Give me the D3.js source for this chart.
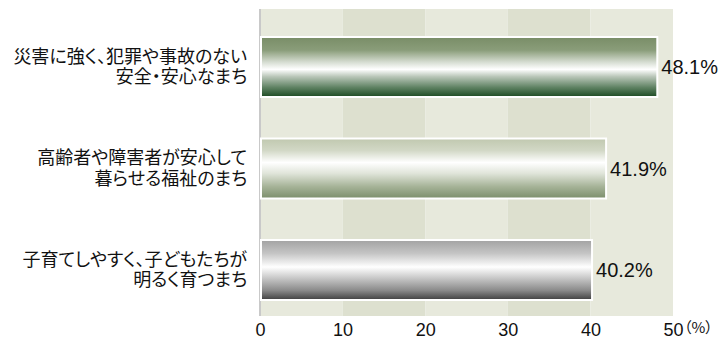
<!DOCTYPE html>
<html lang="ja">
<head>
<meta charset="utf-8">
<script src="https://cdn.jsdelivr.net/npm/d3@7/dist/d3.min.js"></script>
<style>
  html, body { margin: 0; padding: 0; background: #ffffff; }
  svg { display: block; }
  .cat { font-family: "Noto Sans CJK JP", sans-serif; font-size: 18px; fill: #111; font-feature-settings: "palt"; }
  .val { font-family: "Liberation Sans", Arial, sans-serif; font-size: 20px; fill: #111; }
  .tick-label { font-family: "Liberation Sans", Arial, sans-serif; font-size: 18px; fill: #111; }
  .unit { font-family: "Noto Sans CJK JP", sans-serif; font-size: 15px; fill: #111; font-feature-settings: "palt"; }
</style>
</head>
<body>
<svg id="chart" width="722" height="340"></svg>
<script>
// Survey results: desired future of the city (%)
const categories = [
  "災害に強く、犯罪や事故のない\n安全・安心なまち",
  "高齢者や障害者が安心して\n暮らせる福祉のまち",
  "子育てしやすく、子どもたちが\n明るく育つまち"
];
const values = [48.1, 41.9, 40.2];
const valueLabels = ["48.1%", "41.9%", "40.2%"];
const tickValues = [0, 10, 20, 30, 40, 50];
const tickLabels = ["0", "10", "20", "30", "40", "50"];
const unitLabel = "（%）";

// Cylinder-style fills for each bar, top to bottom
const barGradients = [
  [[0, "#798d67"], [0.22, "#8a9d7a"], [0.42, "#d6ddd2"], [0.54, "#ffffff"], [0.66, "#b9c6b8"], [0.84, "#5f8263"], [1, "#1c4a22"]],
  [[0, "#c0c8af"], [0.2, "#d2d8c6"], [0.4, "#ffffff"], [0.58, "#e0e5da"], [0.8, "#a6b398"], [1, "#7b8e6b"]],
  [[0, "#a2a2a2"], [0.22, "#c4c4c4"], [0.45, "#ffffff"], [0.64, "#c6c6c6"], [0.84, "#8a8a8a"], [1, "#3e3e3e"]]
];
const bandFills = ["#e7e9dc", "#dde0cf"];

const svg = d3.select("#chart");
const plotTop = 9, plotBottom = 316;

const x = d3.scaleLinear().domain([0, 50]).range([260, 673]);
const y = d3.scaleBand()
  .domain(categories)
  .range([16.25, 320.75])
  .paddingInner(0.409)
  .paddingOuter(0.2045);

// Gradient definitions
const defs = svg.append("defs");
barGradients.forEach((stops, i) => {
  const g = defs.append("linearGradient")
    .attr("id", "bar-grad-" + i)
    .attr("x1", 0).attr("y1", 0).attr("x2", 0).attr("y2", 1);
  stops.forEach(([o, c]) => g.append("stop").attr("offset", o).attr("stop-color", c));
});

// Alternating background bands every 10 points
const bandEdges = d3.pairs(tickValues);
svg.append("g").selectAll("rect")
  .data(bandEdges)
  .join("rect")
  .attr("x", d => x(d[0]))
  .attr("width", d => x(d[1]) - x(d[0]))
  .attr("y", plotTop)
  .attr("height", plotBottom - plotTop)
  .attr("fill", (d, i) => bandFills[i % 2]);

// Left axis line
svg.append("line")
  .attr("x1", x(0)).attr("x2", x(0))
  .attr("y1", plotTop).attr("y2", plotBottom)
  .attr("stroke", "#c9c9c9")
  .attr("stroke-width", 2);

// Bars
svg.append("g").selectAll("rect")
  .data(categories)
  .join("rect")
  .attr("x", x(0) + 1)
  .attr("y", d => y(d))
  .attr("width", (d, i) => x(values[i]) - x(0) - 1)
  .attr("height", y.bandwidth())
  .attr("fill", (d, i) => `url(#bar-grad-${i})`)
  .attr("stroke", "#ffffff")
  .attr("stroke-width", 2);

// Value labels
svg.append("g").selectAll("text")
  .data(categories)
  .join("text")
  .attr("class", "val")
  .attr("x", (d, i) => x(values[i]) + 4)
  .attr("y", d => y(d) + y.bandwidth() / 2 + 7)
  .text((d, i) => valueLabels[i]);

// Category labels (two lines, right-aligned)
const catG = svg.append("g");
categories.forEach(c => {
  const lines = c.split("\n");
  const cy = y(c) + y.bandwidth() / 2;
  lines.forEach((ln, j) => {
    catG.append("text")
      .attr("class", "cat")
      .attr("text-anchor", "end")
      .attr("x", 247)
      .attr("y", cy + (j === 0 ? -4.5 : 16))
      .text(ln);
  });
});

// Bottom tick labels
const xAxis = d3.axisBottom(x)
  .tickValues(tickValues)
  .tickFormat((d, i) => tickLabels[i])
  .tickSize(0)
  .tickPadding(0);
const axisG = svg.append("g")
  .attr("transform", `translate(0, ${plotBottom})`)
  .call(xAxis);
axisG.select(".domain").remove();
axisG.selectAll("text")
  .attr("class", "tick-label")
  .attr("dy", null)
  .attr("y", 20)
  .attr("fill", null)
  .attr("font-size", null)
  .attr("font-family", null);

// Unit label after the last tick
svg.append("text")
  .attr("class", "unit")
  .attr("x", x(50) + 11)
  .attr("y", 333)
  .text(unitLabel);
</script>
</body>
</html>
